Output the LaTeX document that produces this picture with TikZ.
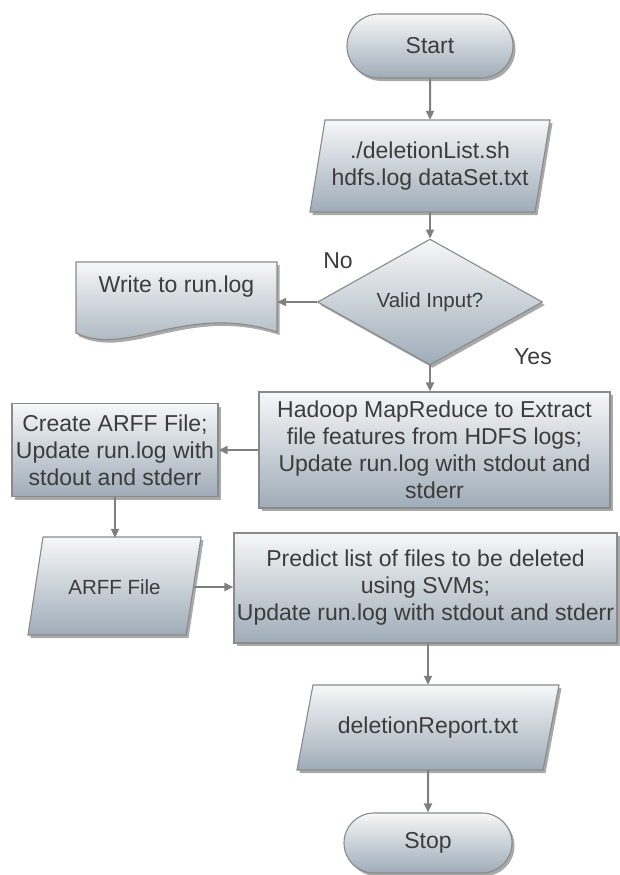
\documentclass[tikz,border=0pt]{standalone}
\usepackage{fontspec}
\setmainfont{Liberation Sans}
\usetikzlibrary{shapes.geometric,shapes.misc,shadows,arrows.meta}
\definecolor{bordergray}{HTML}{8A8A8A}
\definecolor{filltop}{HTML}{F6F7F8}
\definecolor{fillbot}{HTML}{9FACB8}
\definecolor{txtgray}{HTML}{3C3C3C}
\definecolor{arrgray}{HTML}{7F7F7F}
\begin{document}
\begin{tikzpicture}[x=1pt,y=-1pt,
  shapestyle/.style={draw=bordergray, line width=1.1pt, top color=filltop, bottom color=fillbot,
    drop shadow={shadow xshift=2.5pt, shadow yshift=-3pt, fill=black!75, opacity=0.45}},
  txt/.style={text=txtgray, font=\fontsize{23}{27}\selectfont, align=center, inner sep=1pt},
  smalltxt/.style={text=txtgray, font=\fontsize{20.5}{24}\selectfont, align=center, inner sep=0pt},
  box/.style={shapestyle, txt},
  terminal/.style={box, rounded rectangle},
  arr/.style={draw=arrgray, line width=2pt, -{Triangle[length=9pt,width=8pt]}}
]
\useasboundingbox (0,0) rectangle (619,875);

% background shapes for parallelograms and document
\path[shapestyle] (325,120) -- (550,120) -- (535,212) -- (310,212) -- cycle;
\path[shapestyle] (76,262) -- (277,262) -- (277,332) .. controls (185,302) and (128,358) .. (76,333) -- cycle;
\path[shapestyle] (43,537) -- (201,537) -- (186,635) -- (28,635) -- cycle;
\path[shapestyle] (313,685) -- (559,685) -- (543,770) -- (297,770) -- cycle;

% nodes
\node[terminal, minimum width=168pt, minimum height=64pt] (start) at (430,46) {Start};
\node[txt, minimum width=225pt, minimum height=92pt] (p1) at (430,166) {./deletionList.sh\\hdfs.log dataSet.txt};
\node[shapestyle, smalltxt, diamond, minimum width=225pt, minimum height=93pt] (dia) at (430,302) {Valid Input?};
\node[txt, minimum width=201pt, minimum height=50pt] (doc) at (176.5,287) {Write to run.log};
\node[txt] (no) at (338,261) {No};
\node[txt] (yes) at (533,357) {Yes};
\node[box, rectangle, minimum width=351pt, minimum height=116pt] (hadoop) at (434.5,450)
  {Hadoop MapReduce to Extract\\file features from HDFS logs;\\Update run.log with stdout and\\stderr};
\node[box, rectangle, minimum width=206pt, minimum height=93pt] (create) at (115,450)
  {Create ARFF File;\\Update run.log with\\stdout and stderr};
\node[smalltxt, minimum width=158pt, minimum height=98pt] (arff) at (114.5,587) {ARFF File};
\node[box, rectangle, minimum width=383pt, minimum height=110pt] (pred) at (425.5,588)
  {Predict list of files to be deleted\\using SVMs;\\Update run.log with stdout and stderr};
\node[txt, minimum width=246pt, minimum height=85pt] (rep) at (428,727.5) {deletionReport.txt};
\node[terminal, minimum width=170pt, minimum height=60pt] (stop) at (428,843) {Stop};

% connectors
\draw[arr] (start) -- (p1);
\draw[arr] (p1) -- (dia);
\draw[arr] (dia.west) -- (dia.west -| doc.east);
\draw[arr] (dia.south) -- (dia.south |- hadoop.north);
\draw[arr] (hadoop.west) -- (hadoop.west -| create.east);
\draw[arr] (create.south) -- (create.south |- arff.north);
\draw[arr] (arff.east) -- (arff.east -| pred.west);
\draw[arr] (rep.north |- pred.south) -- (rep.north);
\draw[arr] (rep) -- (stop);
\end{tikzpicture}
\end{document}
